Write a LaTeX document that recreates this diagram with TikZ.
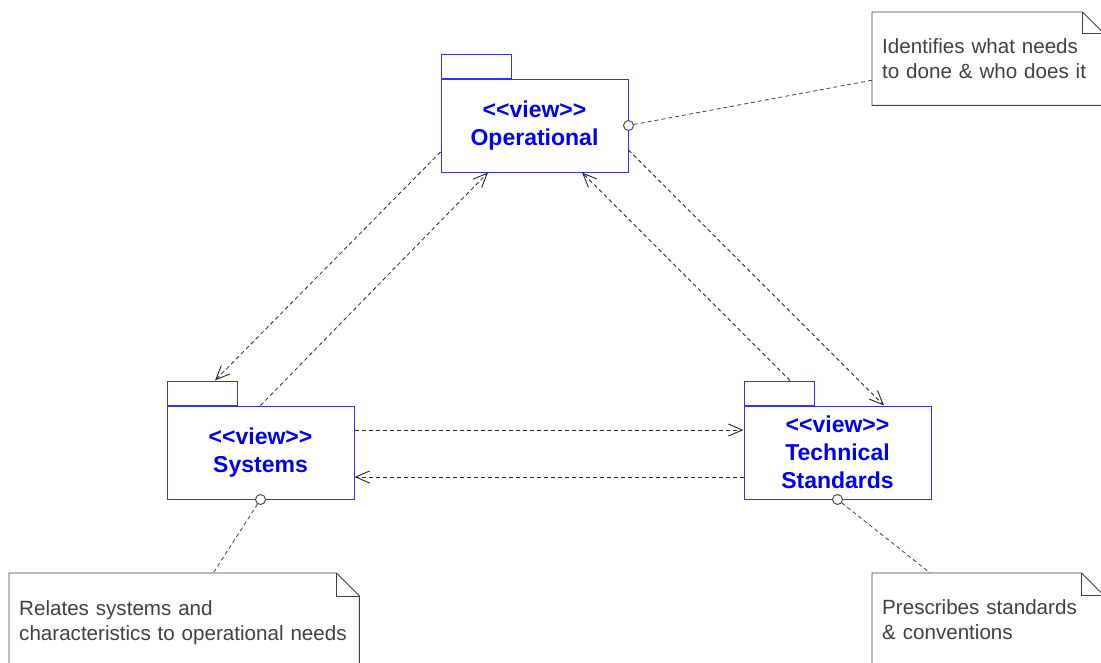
\documentclass[tikz,border=0pt]{standalone}
\usepackage{fontspec}
\setmainfont{Liberation Sans}
\usetikzlibrary{arrows.meta,calc}
\definecolor{pkgline}{RGB}{48,48,255}
\definecolor{pkgtext}{RGB}{0,0,240}
\definecolor{notegrey}{RGB}{64,64,64}

% stereotype brackets kept as two separate characters
\newcommand\stereo[1]{<\kern0pt<#1>\kern0pt>}

% folded-corner outline around a note node: #1 = node name, #2 = fold size
\newcommand\drawnoteframe[2]{%
  \draw[noteframe] (#1.south west) -- (#1.north west) -- ([xshift=-#2pt]#1.north east)
     -- ([yshift=-#2pt]#1.north east) -- (#1.south east) -- cycle;
  \draw[noteframe] ([xshift=-#2pt]#1.north east) -- ([xshift=-#2pt,yshift=-#2pt]#1.north east)
     -- ([yshift=-#2pt]#1.north east);
}

\begin{document}
\begin{tikzpicture}[x=1pt,y=-1pt,
  pkg/.style={draw=pkgline, line width=1pt, fill=white, minimum width=187pt,
    minimum height=93pt, inner sep=0pt, align=center, text=pkgtext,
    font=\fontsize{23}{28}\selectfont\bfseries},
  pkgtab/.style={draw=pkgline, line width=1pt, fill=white, minimum width=70pt,
    minimum height=24pt, inner sep=0pt, anchor=south west},
  note/.style={inner xsep=10pt, inner ysep=0pt, align=left, text=notegrey,
    font=\fontsize{20.6}{25}\selectfont, anchor=north west},
  noteframe/.style={draw=notegrey, line width=0.9pt, line join=miter},
  port/.style={circle, draw=notegrey, fill=white, line width=0.9pt,
    minimum size=10pt, inner sep=0pt},
  conn/.style={draw=black!85, line width=0.8pt, dash pattern=on 4pt off 3pt,
    -{Straight Barb[length=14pt,width=12pt,line width=0.9pt]}},
  anchorline/.style={draw=notegrey, line width=0.8pt, dash pattern=on 4pt off 3pt},
]
\useasboundingbox (0,0) rectangle (1101,662);

% packages
\node[pkg] (op) at (534.5,125.5) {\stereo{view}\\Operational};
\node[pkgtab] (optab) at (op.north west) {};
\node[pkg] (sys) at (260.5,452.5) {\stereo{view}\\Systems};
\node[pkgtab] (systab) at (sys.north west) {};
\node[pkg] (tech) at (837.5,452.5) {\stereo{view}\\Technical\\Standards};
\node[pkgtab] (techtab) at (tech.north west) {};

% notes
\node[note, text width=211pt, minimum height=93pt] (n1) at (872,12)
  {Identifies what needs\\to done \& who does it};
\node[note, text width=330pt, minimum height=98pt] (n2) at (9,573)
  {Relates systems and\\characteristics to operational needs};
\node[note, text width=211pt, minimum height=93pt] (n3) at (872,573)
  {Prescribes standards\\\& conventions};
\drawnoteframe{n1}{21}
\drawnoteframe{n2}{23}
\drawnoteframe{n3}{22}

% dependencies between the views
\draw[conn] ([yshift=-26.5pt]op.west) -- ([xshift=13pt]systab.north);
\draw[conn] (sys.north) -- ([xshift=-46.5pt]op.south);
\draw[conn] ([xshift=11pt]techtab.north) -- ([xshift=47.5pt]op.south);
\draw[conn] ([yshift=-24.5pt]op.east) -- ([xshift=46.5pt]tech.north);
\draw[conn] ([yshift=22.5pt]sys.east) -- ([yshift=22.5pt]tech.west);
\draw[conn] ([yshift=-24.5pt]tech.west) -- ([yshift=-24.5pt]sys.east);

% note attachments
\node[port] (p1) at (op.east) {};
\node[port] (p2) at (sys.south) {};
\node[port] (p3) at (tech.south) {};
\draw[anchorline] (p1) -- ([yshift=-21.5pt]n1.west);
\draw[anchorline] (p2) -- ([xshift=29pt]n2.north);
\draw[anchorline] (p3) -- ([xshift=-57.5pt]n3.north);
\end{tikzpicture}
\end{document}
